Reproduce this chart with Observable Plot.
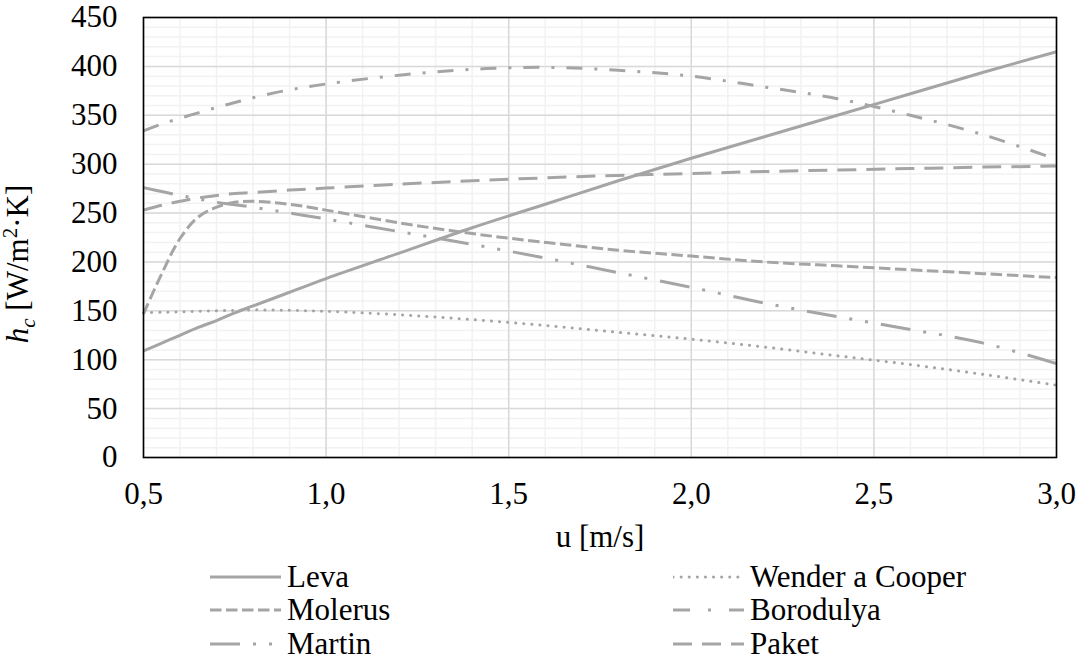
<!DOCTYPE html>
<html>
<head>
<meta charset="utf-8">
<script src="https://cdn.jsdelivr.net/npm/d3@7"></script>
<script src="https://cdn.jsdelivr.net/npm/@observablehq/plot@0.6"></script>
<style>
  html, body { margin: 0; padding: 0; background: #fff; }
  #wrap { position: relative; width: 1085px; height: 663px; font-family: "Liberation Serif", "Times New Roman", serif; }
  #chart { position: absolute; left: 0; top: 0; }
  .leg { position: absolute; display: flex; align-items: center; font-size: 31px; line-height: 31px; color: #000; white-space: nowrap; }
  .leg svg { display: block; margin-right: 6px; }
</style>
</head>
<body>
<div id="wrap"><div id="chart"></div></div>
<script>
// ---- data ----
const u = [0.5, 0.55, 0.6, 0.65, 0.7, 0.75, 0.8, 0.9, 1.0, 1.2, 1.4, 1.6, 1.8, 2.0, 2.2, 2.4, 2.6, 2.8, 3.0];
const leva      = [109, 117, 125, 133, 140, 148, 155, 169, 183, 209, 235, 259, 283, 306, 328, 350, 372, 394, 415];
const wender    = [148, 148.5, 149, 149.5, 150, 150.5, 151, 150.5, 149.5, 146, 141, 135, 128, 121, 113, 104, 95, 85, 74];
const molerus   = [147, 188, 224, 246, 256, 261, 262, 259, 253, 240, 229, 220, 212, 206, 200, 196, 192, 188, 184];
const borodulya = [334, 341, 347, 352.5, 358, 363, 368, 376, 382, 391, 397, 399, 396, 390, 379, 367, 350, 330, 305];
const martin    = [276, 272, 268, 264.5, 261, 258.5, 256, 250, 244, 231, 218, 204, 189, 174, 158, 144, 131, 117, 96];
const paket     = [253, 258, 262, 265.5, 268, 270, 271, 273.5, 275.5, 279.5, 283, 286, 288.5, 290.5, 292.5, 294, 295.5, 297, 298];

const seriesNames = ["Leva", "Wender a Cooper", "Molerus", "Borodulya", "Martin", "Paket"];
const seriesValues = [leva, wender, molerus, borodulya, martin, paket];

const xTicks = [0.5, 1.0, 1.5, 2.0, 2.5, 3.0];
const yTicks = [0, 50, 100, 150, 200, 250, 300, 350, 400, 450];
const xMinor = d3.range(5, 31).map(d => d / 10);
const yMinor = d3.range(0, 451, 10);

// ---- styles ----
const fontStack = "'Liberation Serif', 'Times New Roman', serif";
const lineColor = "#a5a5a5";
const dashes = {
  "Leva": null,
  "Wender a Cooper": "0.1 8",
  "Molerus": "11.5 4.5",
  "Borodulya": "16 12 3 12",
  "Martin": "30 13 3 13 3 13",
  "Paket": "19 10"
};
const legendDashes = Object.assign({}, dashes, { "Borodulya": "17 18 3 18" });
const caps = { "Wender a Cooper": "round" };

const tables = seriesNames.map((name, k) => u.map((x, i) => ({ u: x, h: seriesValues[k][i], name })));

const lineMarks = tables.map((t, k) => Plot.line(t, {
  x: "u", y: "h", stroke: lineColor, strokeWidth: 3,
  strokeDasharray: dashes[seriesNames[k]] || undefined,
  strokeLinecap: caps[seriesNames[k]] || "butt",
  curve: "catmull-rom"
}));

const chart = Plot.plot({
  width: 1085, height: 560,
  marginLeft: 143, marginRight: 29, marginTop: 17, marginBottom: 103,
  style: { fontFamily: fontStack, fontSize: "31px", color: "#000", background: "#fff", overflow: "visible" },
  x: { domain: [0.5, 3.0], ticks: xTicks, tickFormat: d => d.toFixed(1).replace(".", ","), tickSize: 0, tickPadding: 24, label: null },
  y: { domain: [0, 450], ticks: yTicks, tickSize: 0, tickPadding: 26, label: null },
  marks: [
    Plot.ruleY(yMinor, { stroke: "#f2f2f2", strokeWidth: 1.5 }),
    Plot.ruleX(xMinor, { stroke: "#f2f2f2", strokeWidth: 1.5 }),
    Plot.ruleY(yTicks, { stroke: "#d9d9d9", strokeWidth: 1.5 }),
    Plot.ruleX(xTicks, { stroke: "#d9d9d9", strokeWidth: 1.5 }),
    ...lineMarks,
    Plot.frame({ stroke: "#000", strokeWidth: 1.6 }),
    Plot.text(["u [m/s]"], { frameAnchor: "bottom", dy: 80, lineAnchor: "middle", fontSize: 31, fill: "#000" })
  ]
});

// y-axis title with subscript / superscript
const yl = d3.select(chart).append("text")
  .attr("transform", "translate(28,264) rotate(-90)")
  .attr("text-anchor", "middle")
  .attr("font-family", fontStack)
  .attr("font-size", 31)
  .attr("fill", "#000");
yl.append("tspan").attr("font-style", "italic").text("h");
yl.append("tspan").attr("font-style", "italic").attr("font-size", 21).attr("dy", 7).text("c");
yl.append("tspan").attr("dy", -7).text(" [W/m");
yl.append("tspan").attr("font-size", 21).attr("dy", -11).text("2");
yl.append("tspan").attr("dy", 11).text("·K]");

document.getElementById("chart").appendChild(chart);

// ---- legend (two columns) ----
const legendOrder = ["Leva", "Wender a Cooper", "Molerus", "Borodulya", "Martin", "Paket"];
const colX = [210, 673];
const rowY = [576, 609, 643];
const wrap = document.getElementById("wrap");
legendOrder.forEach((name, i) => {
  const col = i % 2, row = Math.floor(i / 2);
  const div = document.createElement("div");
  div.className = "leg";
  div.style.left = colX[col] + "px";
  div.style.top = (rowY[row] - 15) + "px";
  const ns = "http://www.w3.org/2000/svg";
  const s = document.createElementNS(ns, "svg");
  s.setAttribute("width", 71); s.setAttribute("height", 30);
  const ln = document.createElementNS(ns, "line");
  ln.setAttribute("x1", 0); ln.setAttribute("x2", 71);
  ln.setAttribute("y1", 15); ln.setAttribute("y2", 15);
  ln.setAttribute("stroke", lineColor); ln.setAttribute("stroke-width", 3);
  if (legendDashes[name]) ln.setAttribute("stroke-dasharray", legendDashes[name]);
  ln.setAttribute("stroke-linecap", caps[name] || "butt");
  s.appendChild(ln);
  div.appendChild(s);
  const sp = document.createElement("span");
  sp.textContent = name;
  div.appendChild(sp);
  wrap.appendChild(div);
});
</script>
</body>
</html>
